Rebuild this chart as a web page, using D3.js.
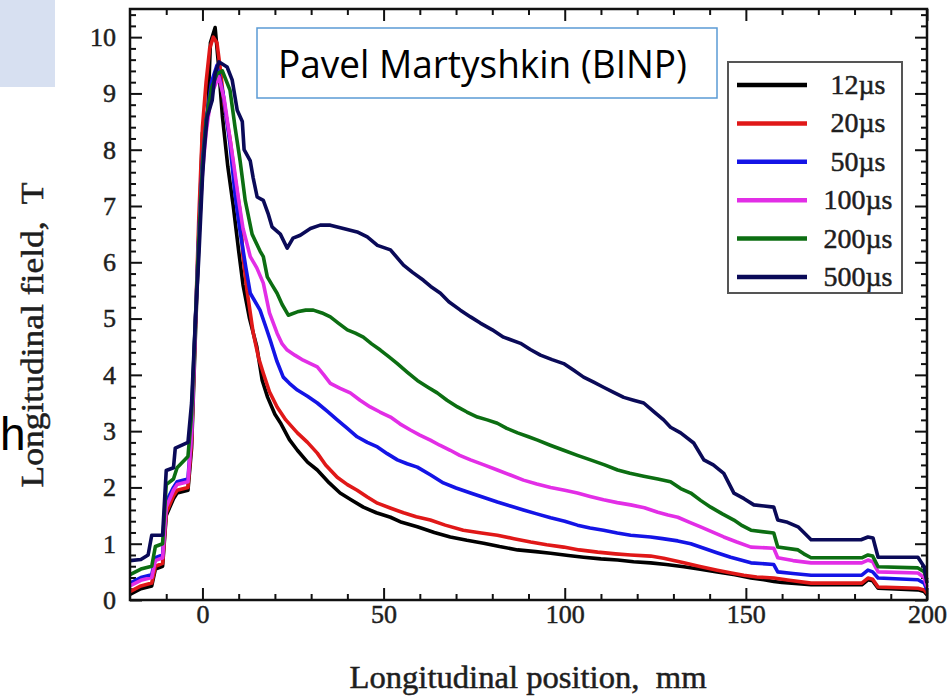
<!DOCTYPE html>
<html>
<head>
<meta charset="utf-8">
<script src="https://cdn.jsdelivr.net/npm/d3@7"></script>
<style>
  body { margin: 0; background: #fff; }
  svg { display: block; }
  .tick text { font-family: "Liberation Serif", serif; font-size: 26px; fill: #1e1e1e; stroke: #1e1e1e; stroke-width: 0.5; }
  .tick line { stroke: #111; stroke-width: 2; }
  .serif { font-family: "Liberation Serif", serif; fill: #1e1e1e; stroke: #1e1e1e; stroke-width: 0.5; white-space: pre; }
</style>
</head>
<body>
<div class="mainviz"></div>
<script>
// values: [position mm, field T]
var s12 = [[-20,0.1],[-17,0.2],[-14,0.25],[-13,0.55],[-11,0.6],[-10,1.5],[-8,1.8],[-7,1.9],[-4,1.95],[-3,2.7],[-2,4.6],[-1,6.4],[0,8.3],[1.5,8.7],[2.2,9.9],[3.5,10.17],[4.3,9.6],[5.5,8.6],[7,7.7],[8.5,7.0],[10,6.2],[11.2,5.6],[13,5.0],[15,4.5],[16.5,3.9],[18,3.6],[20,3.3],[21.5,3.15],[24,2.85],[26.2,2.66],[29,2.45],[31.7,2.31],[35,2.08],[38,1.9],[41,1.78],[44.4,1.65],[48,1.55],[51.9,1.47],[55,1.38],[59.3,1.3],[64,1.2],[68.4,1.12],[73,1.06],[77.6,1.01],[82,0.95],[87,0.89],[92,0.86],[96.1,0.83],[101,0.79],[105.2,0.76],[110,0.73],[114.6,0.71],[119,0.68],[123.7,0.66],[128,0.63],[132.9,0.59],[137,0.55],[142.1,0.5],[147,0.45],[151.4,0.39],[155,0.36],[157.7,0.33],[160,0.31],[168,0.27],[182,0.27],[183.7,0.36],[185,0.34],[186.5,0.21],[197.5,0.18],[199.2,0.15],[200,0.09]];
var s20 = [[-20,0.15],[-17,0.25],[-14,0.3],[-13,0.6],[-11,0.65],[-10,1.55],[-8,1.85],[-7,1.95],[-4,2.0],[-3,2.8],[-2,4.8],[-1,6.8],[0,8.4],[1,9.2],[2,9.8],[3,10.0],[4,9.9],[4.9,9.45],[6,8.8],[7.6,8.2],[9,7.5],[10.4,6.9],[11.2,6.1],[12.3,5.5],[14,4.75],[15.5,4.3],[16.8,4.03],[18.5,3.7],[20.6,3.43],[23,3.2],[26.2,2.97],[29,2.8],[31.7,2.61],[34,2.4],[37.2,2.18],[40,2.05],[42.7,1.95],[45.5,1.83],[48.3,1.72],[52,1.63],[55.5,1.55],[59,1.48],[62.9,1.42],[67,1.33],[72,1.24],[77,1.19],[81.4,1.15],[86,1.09],[90.6,1.03],[95,0.98],[99.7,0.94],[104,0.89],[109.1,0.85],[114,0.82],[118.2,0.8],[123.7,0.78],[127.3,0.74],[132.9,0.66],[137,0.6],[142.1,0.53],[146,0.48],[149.4,0.44],[153,0.41],[157.7,0.39],[162,0.35],[168,0.3],[182,0.3],[183.7,0.39],[185,0.37],[186.5,0.23],[197.5,0.21],[199.2,0.18],[200,0.12]];
var s50 = [[-20,0.3],[-17,0.4],[-14,0.45],[-13,0.75],[-11,0.8],[-10,1.75],[-8,2.0],[-7,2.1],[-4,2.15],[-3,3.0],[-2,4.9],[-1,6.5],[0,7.8],[1,8.5],[2.5,9.2],[4,9.5],[5.7,9.0],[7.6,8.1],[9,7.2],[10.5,6.5],[12,5.9],[13.2,5.45],[15.9,5.15],[17.5,4.85],[18.7,4.62],[20.5,4.25],[22.3,3.96],[24,3.85],[26.2,3.73],[29,3.62],[31.7,3.5],[34.5,3.35],[37.2,3.2],[40,3.05],[42.7,2.9],[45.5,2.8],[48.3,2.72],[51,2.6],[53.8,2.49],[56.5,2.42],[59.3,2.36],[63,2.22],[66.5,2.08],[70,1.99],[74,1.9],[77.7,1.82],[81.4,1.74],[85,1.67],[88.6,1.6],[92.3,1.53],[96.1,1.46],[100,1.4],[103.5,1.33],[107,1.28],[110.7,1.24],[114.5,1.19],[118.2,1.15],[123.7,1.12],[127,1.09],[131.2,1.05],[134.8,1.0],[138.4,0.92],[142,0.84],[145.8,0.76],[148.6,0.71],[151.4,0.66],[157.7,0.63],[158.8,0.5],[163,0.47],[168,0.44],[182,0.44],[183.7,0.53],[185,0.5],[186.5,0.39],[197.5,0.36],[199.2,0.3],[200,0.18]];
var s100 = [[-20,0.25],[-17,0.35],[-14,0.4],[-13,0.7],[-11,0.75],[-10,1.65],[-8,1.95],[-7,2.05],[-4,2.1],[-3,2.95],[-2,4.85],[-1,6.4],[0,7.6],[1,8.3],[2.5,9.0],[4.5,9.3],[6,8.9],[8.5,7.8],[10,7.1],[11.2,6.6],[13.2,6.1],[15,5.9],[16.8,5.63],[18.5,5.1],[20.6,4.74],[22,4.55],[23.4,4.44],[25.5,4.35],[27.8,4.26],[29.8,4.2],[31.7,4.14],[33.5,4.0],[35.3,3.85],[38,3.76],[40.8,3.68],[43.5,3.55],[46.3,3.43],[49,3.34],[51.9,3.25],[54.5,3.13],[57.4,3.02],[60,2.93],[62.9,2.84],[65.5,2.75],[68.4,2.66],[71,2.57],[74,2.49],[77.7,2.4],[81.4,2.31],[85,2.22],[88.6,2.13],[92.3,2.06],[96.1,2.0],[100,1.95],[103.5,1.9],[107,1.84],[110.7,1.78],[114.5,1.73],[118.2,1.69],[122,1.64],[125.7,1.56],[128.5,1.51],[131.2,1.47],[134.5,1.38],[137.5,1.3],[140.7,1.21],[143.9,1.12],[147.5,1.03],[151.4,0.94],[157.7,0.92],[158.8,0.75],[163,0.7],[168,0.66],[182,0.66],[183.7,0.71],[185,0.68],[186.5,0.5],[197.5,0.48],[199.2,0.4],[200,0.23]];
var s200 = [[-20,0.45],[-17,0.55],[-14,0.6],[-13,0.95],[-11,1.0],[-10,2.05],[-8,2.15],[-7,2.35],[-4,2.55],[-3,3.3],[-2,4.9],[-1,6.4],[0,7.7],[1,8.5],[2.5,9.1],[4,9.35],[5.5,9.4],[7.6,9.06],[9,8.4],[10.4,7.8],[11.8,7.1],[13.7,6.5],[15.9,6.2],[16.8,6.1],[17.9,5.74],[19.2,5.6],[20.6,5.45],[22,5.25],[23.7,5.06],[26.2,5.12],[28.5,5.15],[30.6,5.15],[33,5.1],[35.3,5.03],[37.5,4.92],[40,4.8],[42.2,4.74],[44.4,4.67],[46.7,4.55],[49.1,4.44],[51.5,4.32],[53.8,4.2],[56.5,4.05],[59.3,3.9],[62,3.79],[64.8,3.68],[67.5,3.55],[70.4,3.43],[73,3.34],[75.9,3.25],[78.6,3.2],[81.4,3.14],[84,3.05],[87,2.97],[90,2.9],[92.5,2.84],[96,2.75],[99.7,2.66],[103.5,2.57],[107.1,2.49],[111,2.4],[114.6,2.31],[118,2.25],[121.8,2.2],[125.7,2.15],[129.2,2.1],[132,1.98],[134.8,1.9],[137.5,1.77],[140.3,1.65],[143.5,1.53],[146.7,1.42],[149,1.32],[151.4,1.24],[157.7,1.19],[158.8,0.94],[164.4,0.89],[166,0.82],[168,0.75],[182,0.75],[183.7,0.8],[185,0.78],[186.5,0.59],[197.5,0.57],[199.2,0.5],[200,0.36]];
var s500 = [[-20,0.7],[-17,0.72],[-15,0.8],[-14,1.15],[-11,1.15],[-10,2.3],[-8,2.35],[-7.5,2.7],[-4,2.8],[-3,3.5],[-2,4.9],[-1,6.1],[0,7.5],[0.5,8.0],[1.3,8.58],[2.7,8.88],[3.5,9.36],[4.6,9.56],[6.8,9.47],[8.2,9.24],[9.6,8.7],[11,8.5],[11.5,8.0],[13.2,7.8],[14,7.5],[15.1,7.16],[16.8,7.1],[18.1,6.87],[19.2,6.63],[21.5,6.5],[23.4,6.25],[25,6.43],[27,6.48],[29.8,6.6],[32.5,6.66],[35.3,6.66],[38.9,6.6],[42.7,6.54],[45.5,6.45],[48.3,6.3],[51.9,6.22],[55.5,5.95],[58,5.82],[61,5.68],[63,5.57],[65.7,5.45],[68,5.3],[71.2,5.15],[74,5.03],[76.7,4.92],[80,4.8],[83.1,4.67],[87.8,4.56],[90.5,4.45],[93.3,4.35],[96.5,4.27],[99.7,4.2],[102.5,4.08],[105.2,3.96],[108,3.87],[110.7,3.78],[113.5,3.69],[116.3,3.6],[119,3.55],[121.8,3.5],[124.5,3.35],[127.3,3.2],[129.2,3.07],[132,2.97],[135.6,2.79],[138.4,2.49],[141,2.4],[143.9,2.25],[146.7,1.9],[149.5,1.8],[152.2,1.69],[157.7,1.65],[158.8,1.42],[161.5,1.38],[164.4,1.3],[166,1.2],[168,1.07],[181.8,1.07],[183.7,1.12],[185.1,1.1],[186.5,0.76],[197.5,0.76],[199.2,0.59],[200,0.3]];

var seriesNames = ["12\u00b5s", "20\u00b5s", "50\u00b5s", "100\u00b5s", "200\u00b5s", "500\u00b5s"];
var seriesData = [s12, s20, s50, s100, s200, s500];
var colors = ["#000000", "#e01818", "#1414e6", "#e22ee6", "#0c6e12", "#0a0a58"];
var xMajor = [0, 50, 100, 150, 200];
var yMajor = [0, 1, 2, 3, 4, 5, 6, 7, 8, 9, 10];

var W = 951, H = 697;
var plot = { left: 130, right: 927, top: 9, bottom: 600 };

var svg = d3.select(".mainviz").append("svg")
	.attr("width", W)
	.attr("height", H);

svg.append("rect").attr("width", W).attr("height", H).attr("fill", "#fff");

// slide leftovers
svg.append("rect")
	.attr("x", 0).attr("y", 0)
	.attr("width", 55).attr("height", 87)
	.attr("fill", "#d7e0f1");

var x = d3.scaleLinear().domain([-20, 200]).range([plot.left, plot.right]);
var y = d3.scaleLinear().domain([0, 10.5]).range([plot.bottom, plot.top]);

var xMinor = d3.range(-10, 200, 10).filter(function(d){ return xMajor.indexOf(d) < 0; });
var yMinor = d3.range(0.2, 10.5, 0.2).map(function(d){ return +d.toFixed(1); })
	.filter(function(d){ return Math.abs(d - Math.round(d)) > 0.01; });

function addAxis(axis, tx, ty) {
	var g = svg.append("g")
		.attr("transform", "translate(" + tx + "," + ty + ")")
		.call(axis);
	g.select(".domain").remove();
	return g;
}

// major ticks, pointing inward
addAxis(d3.axisBottom(x).tickValues(xMajor).tickSize(-12).tickPadding(5).tickFormat(d3.format("d")), 0, plot.bottom);
addAxis(d3.axisTop(x).tickValues(xMajor).tickSize(-12).tickFormat(""), 0, plot.top);
addAxis(d3.axisLeft(y).tickValues(yMajor).tickSize(-12).tickPadding(14).tickFormat(d3.format("d")), plot.left, 0);
addAxis(d3.axisRight(y).tickValues(yMajor).tickSize(-12).tickFormat(""), plot.right, 0);

// minor ticks
addAxis(d3.axisBottom(x).tickValues(xMinor).tickSize(-6).tickFormat(""), 0, plot.bottom);
addAxis(d3.axisTop(x).tickValues(xMinor).tickSize(-6).tickFormat(""), 0, plot.top);
addAxis(d3.axisLeft(y).tickValues(yMinor).tickSize(-6).tickFormat(""), plot.left, 0);
addAxis(d3.axisRight(y).tickValues(yMinor).tickSize(-6).tickFormat(""), plot.right, 0);

var line = d3.line()
	.x(function(d){ return x(d[0]); })
	.y(function(d){ return y(d[1]); });

svg.append("g").selectAll("path")
	.data(seriesData)
	.enter().append("path")
	.attr("d", line)
	.attr("fill", "none")
	.attr("stroke", function(d, i){ return colors[i]; })
	.attr("stroke-width", 3.6)
	.attr("stroke-linejoin", "round");

// frame
svg.append("rect")
	.attr("x", plot.left).attr("y", plot.top)
	.attr("width", plot.right - plot.left)
	.attr("height", plot.bottom - plot.top)
	.attr("fill", "none")
	.attr("stroke", "#111")
	.attr("stroke-width", 2.5);

// legend
var legend = svg.append("g").attr("transform", "translate(728,62)");
legend.append("rect")
	.attr("width", 174).attr("height", 231)
	.attr("fill", "#fff")
	.attr("stroke", "#555")
	.attr("stroke-width", 2);

var ly = d3.scalePoint().domain(seriesNames).range([23, 215]);

var items = legend.selectAll("g.item")
	.data(seriesNames)
	.enter().append("g")
	.attr("class", "item")
	.attr("transform", function(d){ return "translate(0," + ly(d) + ")"; });

items.append("line")
	.attr("x1", 9).attr("x2", 79)
	.attr("stroke", function(d, i){ return colors[i]; })
	.attr("stroke-width", 4.5);

items.append("text")
	.attr("class", "serif")
	.attr("x", 130).attr("y", 9)
	.attr("text-anchor", "middle")
	.style("font-size", "28px")
	.text(function(d){ return d; });

// axis titles
svg.append("text")
	.attr("class", "serif")
	.attr("x", 528).attr("y", 688)
	.attr("text-anchor", "middle")
	.attr("textLength", 357)
	.attr("lengthAdjust", "spacingAndGlyphs")
	.style("font-size", "32px")
	.text("Longitudinal position,  mm");

svg.append("text")
	.attr("class", "serif")
	.attr("transform", "translate(43,335) rotate(-90)")
	.attr("text-anchor", "middle")
	.attr("textLength", 305)
	.attr("lengthAdjust", "spacingAndGlyphs")
	.style("font-size", "31px")
	.text("Longitudinal field,  T");

// annotation box
svg.append("rect")
	.attr("x", 257).attr("y", 28)
	.attr("width", 460).attr("height", 70)
	.attr("fill", "#fff")
	.attr("stroke", "#5b9bd5")
	.attr("stroke-width", 1.5);

svg.append("text")
	.attr("x", 278).attr("y", 78)
	.attr("textLength", 409)
	.attr("lengthAdjust", "spacingAndGlyphs")
	.style("font-family", "Open Sans, sans-serif")
	.style("font-size", "38px")
	.attr("fill", "#000")
	.text("Pavel Martyshkin (BINP)");

svg.append("text")
	.attr("x", 0).attr("y", 450)
	.style("font-family", "Liberation Sans, sans-serif")
	.style("font-size", "46px")
	.attr("fill", "#000")
	.text("h");
</script>
</body>
</html>
